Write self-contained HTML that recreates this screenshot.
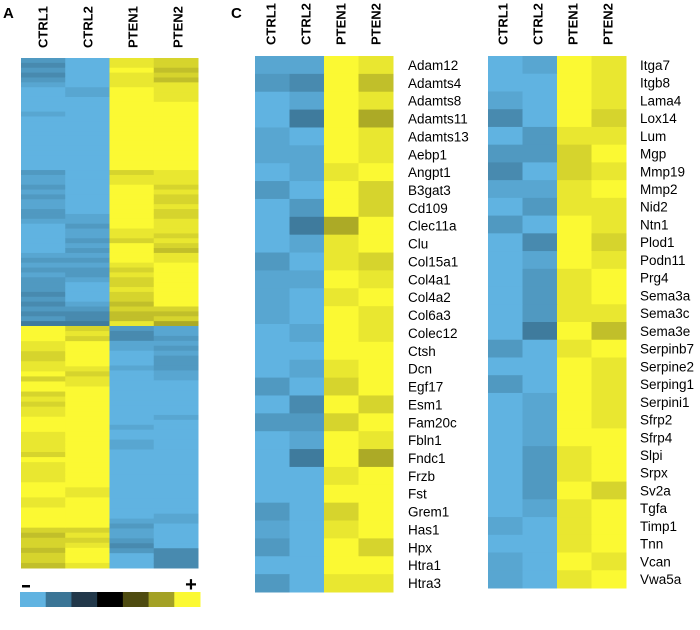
<!DOCTYPE html>
<html><head><meta charset="utf-8"><style>
html,body{margin:0;padding:0;background:#fff;}
svg{display:block;font-family:"Liberation Sans",Arial,sans-serif;}
</style></head><body>
<svg id="fig" width="700" height="630" viewBox="0 0 700 630"></svg>
<script>
// ---- data ----
const samples = ["CTRL1","CTRL2","PTEN1","PTEN2"];
// level codes: a..e = blue (down), A..E = yellow (up); a/A strongest-bright
const levelValues = {a:-1,b:-0.93,c:-0.86,d:-0.78,e:-0.7,A:1,B:0.93,C:0.86,D:0.78,E:0.7};
// Panel A: top cluster and bottom cluster, one string per sample
const panelATop = [
 "cdcdcbaaaaabaaaaaaaaaaacbbcbcbbccbaaaaaabcbcbcccdcdcdce",
 "aaaaaabbaaaaaaaaaaaaaaaaaaaaaaaabbcbbcbcbcbccbaaaabcdde",
 "BBABBBAAAAAAAAAAAAAAAAACBBAAAAAAAAABBCAAAABCBCCBCCDCDDB",
 "CCDCDBBBBAAAAAAAAAAAAAABBBCBCCBCCBBBCBCDBBAAAAAAAAACDCE"];
const panelABottom = [
 "AAABBCCBBACAACBCBBAAABBBBCABBBBAAABBAAAACDCCDCCD",
 "CBCAAAAABCBBAAAAAAAAAAAAAAAAAAAABBAAAAAACBCBAAAB",
 "cddbbaaabaaaaaaaaaaabaabbaaaaaaaaaaaaaabcbbcdcaaa",
 "bbcbcbcccbbaaaaaaabaaaaaaaaaaaaaaaaaaabbaaaaadddd"];
// Panel C left
const genesLeft = ["Adam12","Adamts4","Adamts8","Adamts11","Adamts13","Aebp1","Angpt1","B3gat3","Cd109","Clec11a","Clu","Col15a1","Col4a1","Col4a2","Col6a3","Colec12","Ctsh","Dcn","Egf17","Esm1","Fam20c","Fbln1","Fndc1","Frzb","Fst","Grem1","Has1","Hpx","Htra1","Htra3"];
const valuesLeft = ["bbAB","cdAD","abAB","aeAE","baAB","bbAB","abBA","caAC","acAC","aeEA","abBA","caBC","bbAB","baBA","baAB","abAB","aaAA","abBA","caCA","adAC","ccCA","abAB","aeAE","aaBA","aaAA","caCA","baBA","caAC","aaAA","caBB"];
// Panel C right
const genesRight = ["Itga7","Itgb8","Lama4","Lox14","Lum","Mgp","Mmp19","Mmp2","Nid2","Ntn1","Plod1","Podn11","Prg4","Sema3a","Sema3c","Sema3e","Serpinb7","Serpine2","Serping1","Serpini1","Sfrp2","Sfrp4","Slpi","Srpx","Sv2a","Tgfa","Timp1","Tnn","Vcan","Vwa5a"];
const valuesRight = ["abAB","aaAB","baAB","daAC","acBB","ccCA","daCB","bbBA","acBB","caAB","adAC","abAB","acBA","acBA","acBB","aeAD","caBA","aaAB","caAB","abAB","abAB","abAA","acBA","acBA","acAC","abBA","baBA","aaBA","baAB","baBA"];
const legendValues = [-1,-0.667,-0.333,0,0.333,0.667,1];

// ---- colour scale ----
const stops = [[-1,[96,179,225]],[-0.667,[59,117,150]],[-0.333,[34,56,74]],[0,[0,0,0]],[0.333,[78,75,16]],[0.667,[163,161,37]],[1,[251,249,51]]];
function color(v){
  for(let i=0;i<stops.length-1;i++){
    const [v0,c0]=stops[i],[v1,c1]=stops[i+1];
    if(v<=v1){const t=(v-v0)/(v1-v0);return "rgb("+c0.map((c,k)=>Math.round(c+(c1[k]-c)*t)).join(",")+")";}
  }
  return "rgb(251,249,51)";
}
const NS="http://www.w3.org/2000/svg";
const svg=document.getElementById("fig");
function el(tag,attrs,parent){const e=document.createElementNS(NS,tag);for(const k in attrs)e.setAttribute(k,attrs[k]);(parent||svg).appendChild(e);return e;}

function colHeaders(centers,bottom,group){
  samples.forEach((s,i)=>{
    const t=el("text",{x:centers[i],y:bottom,transform:"rotate(-90 "+centers[i]+" "+bottom+")","font-size":"13","font-weight":"bold",fill:"#000","dominant-baseline":"middle"},group);
    
    
    t.textContent=s;
  });
}

// ---- Panel A ----
const gA=el("g",{});


const pa=el("text",{x:3,y:18,"font-size":"15","font-weight":"bold"},gA);


pa.textContent="A";
const aX0=21,aW=177/4,aTop=58,aMid=326,aBot=568;
function drawSection(strs,y0,y1,name){
  strs.forEach((s,ci)=>{
    const h=(y1-y0)/s.length;
    for(let r=0;r<s.length;r++){
      const rc=el("rect",{x:aX0+ci*aW,y:y0+r*h,width:aW+0.5,height:h+0.5,fill:color(levelValues[s[r]])},gA);
      
      
    }
  });
}
drawSection(panelATop,aTop,aMid,"panel-a-top");
drawSection(panelABottom,aMid,aBot,"panel-a-bottom");
colHeaders([44,89,134,179],48,gA);
// legend
const lg=el("g",{},gA);


legendValues.forEach((v,i)=>{
  const r=el("rect",{x:20+i*180/7,y:592,width:180/7+0.5,height:15,fill:color(v)},lg);
  
  
});
const mn=el("rect",{x:22,y:585,width:8,height:2.5,fill:"#000"},lg);


const pl=el("text",{x:191,y:591,"font-size":"20","font-weight":"bold","text-anchor":"middle"},lg);


pl.textContent="+";

// ---- Panel C ----
const gC=el("g",{});


const pc=el("text",{x:231,y:18,"font-size":"15","font-weight":"bold"},gC);


pc.textContent="C";
function drawC(genes,vals,x0,y0,y1,labelX,centers,name){
  const g=el("g",{},gC);
  
  
  const cw=138/4,h=(y1-y0)/genes.length;
  vals.forEach((s,r)=>{
    for(let ci=0;ci<4;ci++){
      const rc=el("rect",{x:x0+ci*cw,y:y0+r*h,width:cw+0.5,height:h+0.5,fill:color(levelValues[s[ci]])},g);
      
      
    }
  });
  genes.forEach((gn,r)=>{
    const t=el("text",{x:labelX,y:y0+r*h+h/2+5,"font-size":"13.5",fill:"#000"},g);
    
    
    t.textContent=gn;
  });
  colHeaders(centers,45,g);
}
drawC(genesLeft,valuesLeft,255,56,592,408,[272,307,342,377],"heatmap-c-left");
drawC(genesRight,valuesRight,488,56,588,640,[504,539,574,609],"heatmap-c-right");
</script>
</body></html>
